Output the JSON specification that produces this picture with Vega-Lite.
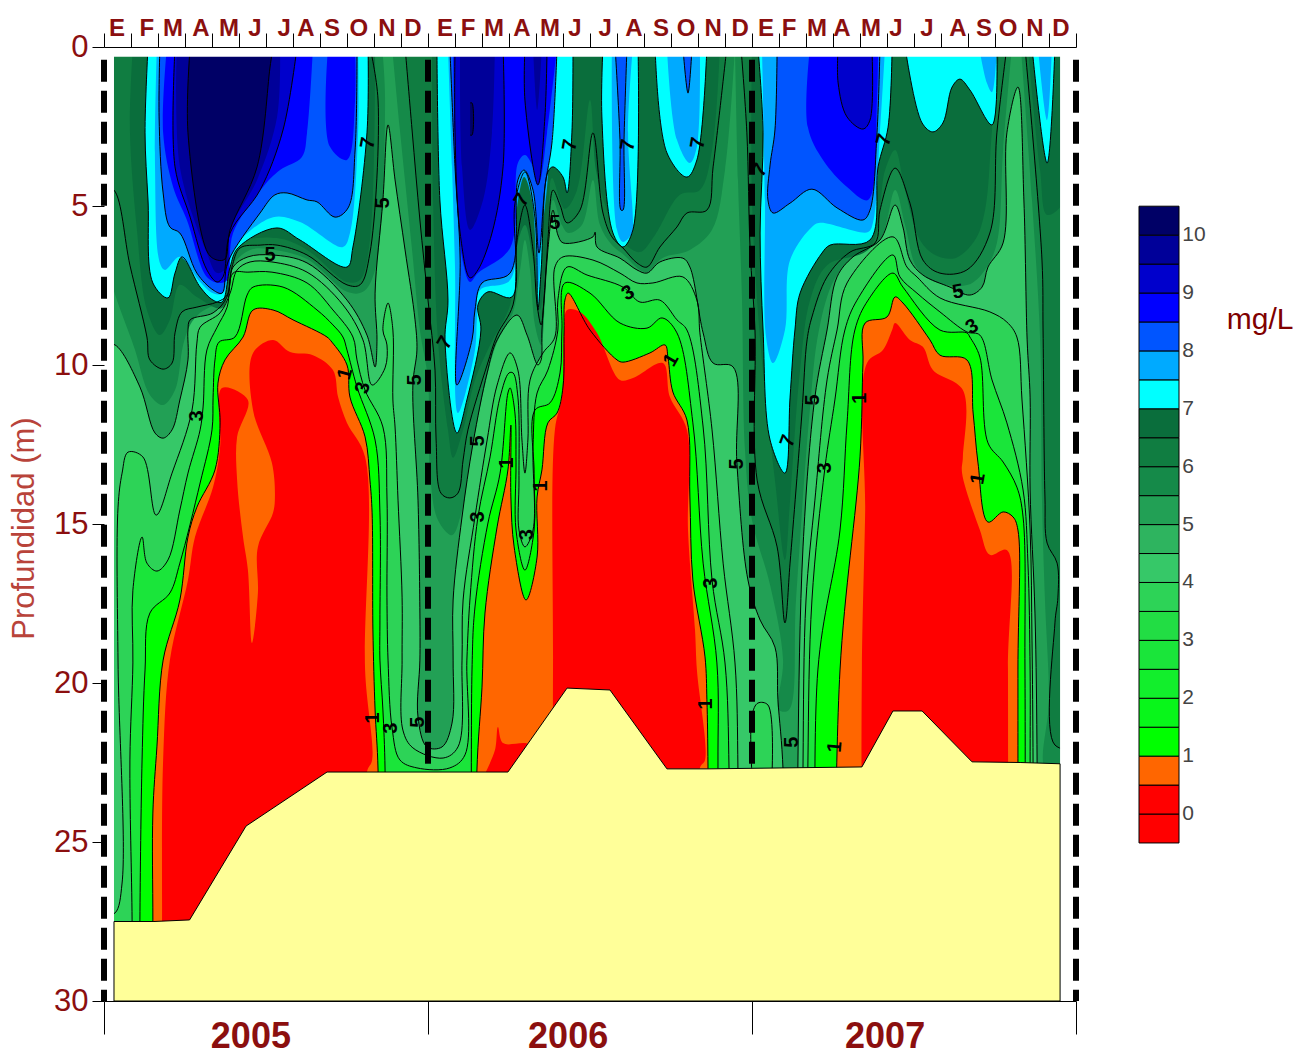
{"$schema":"https://vega.github.io/schema/vega-lite/v6.json","padding":{"left":8,"top":16,"right":0,"bottom":0},"background":"white","config":{"font":"Liberation Sans","view":{"stroke":null}},"spacing":63,"bounds":"flush",
"datasets":{"poly":[
{"b":"5","p":"z","t":0,"d":0},{"b":"5","p":"z","t":36,"d":0},{"b":"5","p":"z","t":36,"d":30},{"b":"5","p":"z","t":0,"d":30},
{"b":"4","p":"a","t":0,"d":9.37},{"b":"4","p":"a","t":0.41,"d":9.37},{"b":"4","p":"a","t":1.33,"d":10.69},{"b":"4","p":"a","t":1.89,"d":12.14},{"b":"4","p":"a","t":2.19,"d":12.3},{"b":"4","p":"a","t":2.52,"d":12.04},{"b":"4","p":"a","t":2.81,"d":11.1},{"b":"4","p":"a","t":3.11,"d":9.84},{"b":"4","p":"a","t":3.11,"d":8.9},{"b":"4","p":"a","t":3.19,"d":8.58},{"b":"4","p":"a","t":4.04,"d":8.36},{"b":"4","p":"a","t":4.56,"d":7.86},{"b":"4","p":"a","t":4.78,"d":6.92},{"b":"4","p":"a","t":5.33,"d":6.6},{"b":"4","p":"a","t":6.22,"d":6.54},{"b":"4","p":"a","t":7.52,"d":6.79},{"b":"4","p":"a","t":9,"d":7.96},{"b":"4","p":"a","t":9.74,"d":9.06},{"b":"4","p":"a","t":10.04,"d":10.06},{"b":"4","p":"a","t":10.11,"d":9.21},{"b":"4","p":"a","t":10.04,"d":7.74},{"b":"4","p":"a","t":10.33,"d":4.81},{"b":"4","p":"a","t":10.52,"d":2.45},{"b":"4","p":"a","t":10.78,"d":4.18},{"b":"4","p":"a","t":11.15,"d":6.38},{"b":"4","p":"a","t":11.52,"d":8.58},{"b":"4","p":"a","t":11.59,"d":9.53},{"b":"4","p":"a","t":11.44,"d":10.63},{"b":"4","p":"a","t":11.63,"d":14.25},{"b":"4","p":"a","t":11.7,"d":17.8},{"b":"4","p":"a","t":11.7,"d":19.28},{"b":"4","p":"a","t":11.63,"d":21.07},{"b":"4","p":"a","t":11.96,"d":22.01},{"b":"4","p":"a","t":12.52,"d":22.01},{"b":"4","p":"a","t":12.89,"d":21.26},{"b":"4","p":"a","t":12.93,"d":19.28},{"b":"4","p":"a","t":12.93,"d":17.39},{"b":"4","p":"a","t":13.26,"d":14.78},{"b":"4","p":"a","t":13.67,"d":12.45},{"b":"4","p":"a","t":14.19,"d":10.25},{"b":"4","p":"a","t":14.56,"d":9.21},{"b":"4","p":"a","t":15.3,"d":8.43},{"b":"4","p":"a","t":15.67,"d":9.06},{"b":"4","p":"a","t":16.07,"d":10},{"b":"4","p":"a","t":16.19,"d":9.84},{"b":"4","p":"a","t":16.22,"d":8.9},{"b":"4","p":"a","t":16.33,"d":7.64},{"b":"4","p":"a","t":16.44,"d":6.38},{"b":"4","p":"a","t":16.63,"d":5.13},{"b":"4","p":"a","t":16.81,"d":5.91},{"b":"4","p":"a","t":17,"d":6.16},{"b":"4","p":"a","t":18.11,"d":5.97},{"b":"4","p":"a","t":18.19,"d":5.82},{"b":"4","p":"a","t":18.26,"d":6.29},{"b":"4","p":"a","t":19.11,"d":6.64},{"b":"4","p":"a","t":19.74,"d":7.01},{"b":"4","p":"a","t":20.11,"d":7.11},{"b":"4","p":"a","t":20.59,"d":6.76},{"b":"4","p":"a","t":21.44,"d":6.64},{"b":"4","p":"a","t":21.7,"d":6.92},{"b":"4","p":"a","t":22.19,"d":8.99},{"b":"4","p":"a","t":22.56,"d":9.94},{"b":"4","p":"a","t":23.3,"d":10.06},{"b":"4","p":"a","t":23.44,"d":13.08},{"b":"4","p":"a","t":23.85,"d":16.76},{"b":"4","p":"a","t":24.3,"d":18.02},{"b":"4","p":"a","t":24.85,"d":18.87},{"b":"4","p":"a","t":24.96,"d":20.53},{"b":"4","p":"a","t":25.15,"d":22.74},{"b":"4","p":"a","t":25.15,"d":29.97},{"b":"4","p":"a","t":0,"d":29.97},
{"b":"4","p":"b","t":25.7,"d":29.97},{"b":"4","p":"b","t":25.7,"d":22.58},{"b":"4","p":"b","t":25.89,"d":15.72},{"b":"4","p":"b","t":26.33,"d":11.01},{"b":"4","p":"b","t":26.78,"d":8.9},{"b":"4","p":"b","t":27.15,"d":7.23},{"b":"4","p":"b","t":27.74,"d":6.6},{"b":"4","p":"b","t":28.74,"d":6.07},{"b":"4","p":"b","t":29.3,"d":4.97},{"b":"4","p":"b","t":29.59,"d":5.66},{"b":"4","p":"b","t":29.85,"d":6.7},{"b":"4","p":"b","t":30.33,"d":7.17},{"b":"4","p":"b","t":31.33,"d":7.55},{"b":"4","p":"b","t":32.07,"d":7.8},{"b":"4","p":"b","t":32.52,"d":7.55},{"b":"4","p":"b","t":32.74,"d":6.92},{"b":"4","p":"b","t":33.3,"d":6.16},{"b":"4","p":"b","t":33.44,"d":2.7},{"b":"4","p":"b","t":33.85,"d":1.26},{"b":"4","p":"b","t":34.07,"d":4.81},{"b":"4","p":"b","t":34.19,"d":9.21},{"b":"4","p":"b","t":34.3,"d":11.01},{"b":"4","p":"b","t":34.3,"d":13.93},{"b":"4","p":"b","t":34.48,"d":17.8},{"b":"4","p":"b","t":34.56,"d":22.58},{"b":"4","p":"b","t":34.56,"d":29.97},
{"b":"3.5","p":"a","t":0,"d":27.3},{"b":"3.5","p":"a","t":0.41,"d":27.23},{"b":"3.5","p":"a","t":0.67,"d":26.29},{"b":"3.5","p":"a","t":0.52,"d":19.37},{"b":"3.5","p":"a","t":0.52,"d":14.47},{"b":"3.5","p":"a","t":0.67,"d":13.4},{"b":"3.5","p":"a","t":0.89,"d":12.74},{"b":"3.5","p":"a","t":1.44,"d":12.89},{"b":"3.5","p":"a","t":1.93,"d":14.72},{"b":"3.5","p":"a","t":2.52,"d":13.4},{"b":"3.5","p":"a","t":3.26,"d":11.42},{"b":"3.5","p":"a","t":3.44,"d":9.31},{"b":"3.5","p":"a","t":3.56,"d":8.81},{"b":"3.5","p":"a","t":4.3,"d":8.36},{"b":"3.5","p":"a","t":4.67,"d":7.74},{"b":"3.5","p":"a","t":4.93,"d":7.01},{"b":"3.5","p":"a","t":5.41,"d":6.76},{"b":"3.5","p":"a","t":6.22,"d":6.76},{"b":"3.5","p":"a","t":7.52,"d":7.08},{"b":"3.5","p":"a","t":8.85,"d":8.11},{"b":"3.5","p":"a","t":9.59,"d":9.21},{"b":"3.5","p":"a","t":9.93,"d":10.63},{"b":"3.5","p":"a","t":10.41,"d":10.09},{"b":"3.5","p":"a","t":10.48,"d":9.37},{"b":"3.5","p":"a","t":10.33,"d":8.9},{"b":"3.5","p":"a","t":10.52,"d":8.05},{"b":"3.5","p":"a","t":10.7,"d":8.9},{"b":"3.5","p":"a","t":10.7,"d":11.1},{"b":"3.5","p":"a","t":10.78,"d":11.95},{"b":"3.5","p":"a","t":10.89,"d":14.25},{"b":"3.5","p":"a","t":11.04,"d":17.3},{"b":"3.5","p":"a","t":11.04,"d":19.28},{"b":"3.5","p":"a","t":11.07,"d":21.48},{"b":"3.5","p":"a","t":11.44,"d":22.04},{"b":"3.5","p":"a","t":12.56,"d":22.36},{"b":"3.5","p":"a","t":13.11,"d":22.01},{"b":"3.5","p":"a","t":13.26,"d":19.28},{"b":"3.5","p":"a","t":13.3,"d":17.39},{"b":"3.5","p":"a","t":13.74,"d":14.78},{"b":"3.5","p":"a","t":14.19,"d":12.36},{"b":"3.5","p":"a","t":14.56,"d":10.63},{"b":"3.5","p":"a","t":15.04,"d":9.62},{"b":"3.5","p":"a","t":15.33,"d":10.16},{"b":"3.5","p":"a","t":15.48,"d":12.36},{"b":"3.5","p":"a","t":15.59,"d":13.4},{"b":"3.5","p":"a","t":15.7,"d":12.36},{"b":"3.5","p":"a","t":15.78,"d":10.47},{"b":"3.5","p":"a","t":16.26,"d":9.62},{"b":"3.5","p":"a","t":16.7,"d":9.12},{"b":"3.5","p":"a","t":16.7,"d":6.92},{"b":"3.5","p":"a","t":17,"d":6.6},{"b":"3.5","p":"a","t":18.11,"d":6.7},{"b":"3.5","p":"a","t":19.11,"d":7.11},{"b":"3.5","p":"a","t":19.74,"d":7.42},{"b":"3.5","p":"a","t":20.33,"d":7.42},{"b":"3.5","p":"a","t":21.44,"d":7.23},{"b":"3.5","p":"a","t":21.96,"d":7.96},{"b":"3.5","p":"a","t":22.07,"d":8.99},{"b":"3.5","p":"a","t":22.52,"d":12.04},{"b":"3.5","p":"a","t":22.93,"d":16.23},{"b":"3.5","p":"a","t":23.37,"d":19.37},{"b":"3.5","p":"a","t":23.48,"d":22.74},{"b":"3.5","p":"a","t":23.48,"d":29.97},{"b":"3.5","p":"a","t":0,"d":29.97},
{"b":"3.5","p":"b","t":25.89,"d":29.97},{"b":"3.5","p":"b","t":25.89,"d":22.58},{"b":"3.5","p":"b","t":26,"d":17.39},{"b":"3.5","p":"b","t":26.33,"d":14.25},{"b":"3.5","p":"b","t":26.78,"d":10.47},{"b":"3.5","p":"b","t":27.15,"d":8.9},{"b":"3.5","p":"b","t":27.52,"d":7.42},{"b":"3.5","p":"b","t":29.22,"d":5.97},{"b":"3.5","p":"b","t":29.74,"d":6.92},{"b":"3.5","p":"b","t":30.11,"d":7.23},{"b":"3.5","p":"b","t":30.96,"d":7.89},{"b":"3.5","p":"b","t":32.81,"d":8.33},{"b":"3.5","p":"b","t":33.44,"d":8.65},{"b":"3.5","p":"b","t":33.81,"d":9.12},{"b":"3.5","p":"b","t":34,"d":11.1},{"b":"3.5","p":"b","t":34.3,"d":15.19},{"b":"3.5","p":"b","t":34.37,"d":18.65},{"b":"3.5","p":"b","t":34.41,"d":22.58},{"b":"3.5","p":"b","t":34.41,"d":29.97},
{"b":"3.5","p":"c","t":24,"d":22.89},{"b":"3.5","p":"c","t":24,"d":21.01},{"b":"3.5","p":"c","t":24.22,"d":20.63},{"b":"3.5","p":"c","t":24.59,"d":20.69},{"b":"3.5","p":"c","t":24.74,"d":22.89},
{"b":"2.5","p":"a","t":1.04,"d":29.97},{"b":"2.5","p":"a","t":1.04,"d":27.45},{"b":"2.5","p":"a","t":0.96,"d":22.42},{"b":"2.5","p":"a","t":1.07,"d":19.37},{"b":"2.5","p":"a","t":1.07,"d":17.08},{"b":"2.5","p":"a","t":1.41,"d":15.41},{"b":"2.5","p":"a","t":1.59,"d":16.23},{"b":"2.5","p":"a","t":1.96,"d":16.48},{"b":"2.5","p":"a","t":2.37,"d":16.13},{"b":"2.5","p":"a","t":2.81,"d":14.56},{"b":"2.5","p":"a","t":3.11,"d":13.4},{"b":"2.5","p":"a","t":3.56,"d":12.04},{"b":"2.5","p":"a","t":3.67,"d":11.32},{"b":"2.5","p":"a","t":3.81,"d":9.53},{"b":"2.5","p":"a","t":4.19,"d":8.81},{"b":"2.5","p":"a","t":4.56,"d":8.18},{"b":"2.5","p":"a","t":4.78,"d":7.11},{"b":"2.5","p":"a","t":5.33,"d":7.08},{"b":"2.5","p":"a","t":6.22,"d":7.08},{"b":"2.5","p":"a","t":7.52,"d":7.42},{"b":"2.5","p":"a","t":8.48,"d":8.27},{"b":"2.5","p":"a","t":9.22,"d":9.12},{"b":"2.5","p":"a","t":9.37,"d":9.84},{"b":"2.5","p":"a","t":9.67,"d":10.79},{"b":"2.5","p":"a","t":10.33,"d":11.95},{"b":"2.5","p":"a","t":10.48,"d":14.15},{"b":"2.5","p":"a","t":10.48,"d":17.3},{"b":"2.5","p":"a","t":10.52,"d":19.28},{"b":"2.5","p":"a","t":10.67,"d":21.42},{"b":"2.5","p":"a","t":10.96,"d":22.42},{"b":"2.5","p":"a","t":11.59,"d":22.67},{"b":"2.5","p":"a","t":12.81,"d":22.67},{"b":"2.5","p":"a","t":13.37,"d":22.26},{"b":"2.5","p":"a","t":13.44,"d":19.28},{"b":"2.5","p":"a","t":13.56,"d":17.3},{"b":"2.5","p":"a","t":13.85,"d":14.78},{"b":"2.5","p":"a","t":14.3,"d":12.89},{"b":"2.5","p":"a","t":14.67,"d":11.01},{"b":"2.5","p":"a","t":15,"d":10.25},{"b":"2.5","p":"a","t":15.15,"d":10.25},{"b":"2.5","p":"a","t":15.33,"d":11.01},{"b":"2.5","p":"a","t":15.37,"d":13.62},{"b":"2.5","p":"a","t":15.37,"d":15.19},{"b":"2.5","p":"a","t":15.59,"d":15.72},{"b":"2.5","p":"a","t":15.89,"d":15.19},{"b":"2.5","p":"a","t":15.89,"d":12.58},{"b":"2.5","p":"a","t":16.04,"d":10.88},{"b":"2.5","p":"a","t":16.44,"d":10.16},{"b":"2.5","p":"a","t":16.81,"d":8.9},{"b":"2.5","p":"a","t":16.81,"d":7.96},{"b":"2.5","p":"a","t":17.15,"d":6.92},{"b":"2.5","p":"a","t":17.89,"d":7.17},{"b":"2.5","p":"a","t":19.22,"d":7.55},{"b":"2.5","p":"a","t":19.85,"d":8.02},{"b":"2.5","p":"a","t":20.59,"d":7.96},{"b":"2.5","p":"a","t":21.22,"d":8.58},{"b":"2.5","p":"a","t":21.59,"d":8.9},{"b":"2.5","p":"a","t":22.19,"d":11.95},{"b":"2.5","p":"a","t":22.52,"d":16.76},{"b":"2.5","p":"a","t":23,"d":19.37},{"b":"2.5","p":"a","t":23.15,"d":22.74},{"b":"2.5","p":"a","t":23.15,"d":29.97},
{"b":"2.5","p":"b","t":26.07,"d":29.97},{"b":"2.5","p":"b","t":26.07,"d":22.58},{"b":"2.5","p":"b","t":26.22,"d":17.39},{"b":"2.5","p":"b","t":26.7,"d":13.24},{"b":"2.5","p":"b","t":27.07,"d":11.1},{"b":"2.5","p":"b","t":27.44,"d":8.9},{"b":"2.5","p":"b","t":27.89,"d":7.96},{"b":"2.5","p":"b","t":29.22,"d":6.54},{"b":"2.5","p":"b","t":29.48,"d":7.23},{"b":"2.5","p":"b","t":30.11,"d":7.74},{"b":"2.5","p":"b","t":30.96,"d":8.33},{"b":"2.5","p":"b","t":31.96,"d":8.96},{"b":"2.5","p":"b","t":32.44,"d":9.06},{"b":"2.5","p":"b","t":32.89,"d":10.47},{"b":"2.5","p":"b","t":33.44,"d":11.82},{"b":"2.5","p":"b","t":34.04,"d":13.93},{"b":"2.5","p":"b","t":34.22,"d":16.23},{"b":"2.5","p":"b","t":34.3,"d":19.59},{"b":"2.5","p":"b","t":34.3,"d":22.58},{"b":"2.5","p":"b","t":34.3,"d":29.97},
{"b":"1","p":"a","t":1.33,"d":29.97},{"b":"1","p":"a","t":1.33,"d":27.45},{"b":"1","p":"a","t":1.41,"d":22.42},{"b":"1","p":"a","t":1.52,"d":19.59},{"b":"1","p":"a","t":1.7,"d":17.8},{"b":"1","p":"a","t":2.44,"d":17.17},{"b":"1","p":"a","t":2.81,"d":16.23},{"b":"1","p":"a","t":3.56,"d":13.71},{"b":"1","p":"a","t":4,"d":12.04},{"b":"1","p":"a","t":4.04,"d":11.01},{"b":"1","p":"a","t":4.11,"d":9.84},{"b":"1","p":"a","t":4.26,"d":9.28},{"b":"1","p":"a","t":4.85,"d":9.12},{"b":"1","p":"a","t":5.3,"d":7.8},{"b":"1","p":"a","t":5.52,"d":7.55},{"b":"1","p":"a","t":6.63,"d":7.55},{"b":"1","p":"a","t":7.89,"d":8.27},{"b":"1","p":"a","t":8.48,"d":8.74},{"b":"1","p":"a","t":8.85,"d":9.12},{"b":"1","p":"a","t":9,"d":9.53},{"b":"1","p":"a","t":9.37,"d":10.69},{"b":"1","p":"a","t":10.04,"d":12.36},{"b":"1","p":"a","t":10.22,"d":14.65},{"b":"1","p":"a","t":10.22,"d":18.02},{"b":"1","p":"a","t":10.22,"d":19.28},{"b":"1","p":"a","t":10.33,"d":20.85},{"b":"1","p":"a","t":10.41,"d":22.74},{"b":"1","p":"a","t":10.41,"d":29.97},
{"b":"1","p":"b","t":13.63,"d":29.97},{"b":"1","p":"b","t":13.63,"d":19.59},{"b":"1","p":"b","t":13.74,"d":17.61},{"b":"1","p":"b","t":14.22,"d":14.97},{"b":"1","p":"b","t":14.67,"d":13.4},{"b":"1","p":"b","t":14.96,"d":10.88},{"b":"1","p":"b","t":15.04,"d":10.72},{"b":"1","p":"b","t":15.22,"d":11.51},{"b":"1","p":"b","t":15.26,"d":13.08},{"b":"1","p":"b","t":15.26,"d":15.19},{"b":"1","p":"b","t":15.59,"d":16.45},{"b":"1","p":"b","t":15.93,"d":15.19},{"b":"1","p":"b","t":15.93,"d":13.4},{"b":"1","p":"b","t":15.96,"d":11.42},{"b":"1","p":"b","t":16.52,"d":11.19},{"b":"1","p":"b","t":16.89,"d":10.25},{"b":"1","p":"b","t":16.96,"d":8.9},{"b":"1","p":"b","t":17.07,"d":7.42},{"b":"1","p":"b","t":18,"d":7.74},{"b":"1","p":"b","t":19.11,"d":8.68},{"b":"1","p":"b","t":20.11,"d":8.84},{"b":"1","p":"b","t":20.67,"d":8.52},{"b":"1","p":"b","t":21.22,"d":8.99},{"b":"1","p":"b","t":21.81,"d":11.82},{"b":"1","p":"b","t":22.19,"d":16.23},{"b":"1","p":"b","t":22.7,"d":19.37},{"b":"1","p":"b","t":22.74,"d":22.64},{"b":"1","p":"b","t":22.74,"d":29.97},
{"b":"1","p":"c","t":26.44,"d":29.97},{"b":"1","p":"c","t":26.44,"d":19.59},{"b":"1","p":"c","t":27.26,"d":15.19},{"b":"1","p":"c","t":27.52,"d":11.82},{"b":"1","p":"c","t":27.81,"d":8.9},{"b":"1","p":"c","t":28.3,"d":7.96},{"b":"1","p":"c","t":29.22,"d":7.11},{"b":"1","p":"c","t":29.59,"d":7.55},{"b":"1","p":"c","t":30.96,"d":8.9},{"b":"1","p":"c","t":31.96,"d":8.99},{"b":"1","p":"c","t":32.07,"d":9.12},{"b":"1","p":"c","t":32.44,"d":9.75},{"b":"1","p":"c","t":32.74,"d":12.45},{"b":"1","p":"c","t":33.3,"d":13.05},{"b":"1","p":"c","t":33.81,"d":13.84},{"b":"1","p":"c","t":34.04,"d":14.78},{"b":"1","p":"c","t":34.11,"d":19.59},{"b":"1","p":"c","t":34.11,"d":29.97},
{"b":"0.5","p":"a","t":1.81,"d":29.97},{"b":"0.5","p":"a","t":1.81,"d":27.45},{"b":"0.5","p":"a","t":1.81,"d":24.09},{"b":"0.5","p":"a","t":1.96,"d":22.01},{"b":"0.5","p":"a","t":2.19,"d":19.28},{"b":"0.5","p":"a","t":2.81,"d":17.39},{"b":"0.5","p":"a","t":3.11,"d":15.41},{"b":"0.5","p":"a","t":3.44,"d":14.47},{"b":"0.5","p":"a","t":4.11,"d":13.3},{"b":"0.5","p":"a","t":4.3,"d":11.82},{"b":"0.5","p":"a","t":4.22,"d":10.57},{"b":"0.5","p":"a","t":4.48,"d":9.84},{"b":"0.5","p":"a","t":5.15,"d":9.12},{"b":"0.5","p":"a","t":5.52,"d":8.27},{"b":"0.5","p":"a","t":6.26,"d":8.27},{"b":"0.5","p":"a","t":7,"d":8.58},{"b":"0.5","p":"a","t":8.26,"d":9.12},{"b":"0.5","p":"a","t":8.44,"d":9.28},{"b":"0.5","p":"a","t":9,"d":10},{"b":"0.5","p":"a","t":9.11,"d":11.01},{"b":"0.5","p":"a","t":9.67,"d":12.26},{"b":"0.5","p":"a","t":9.85,"d":13.62},{"b":"0.5","p":"a","t":9.93,"d":14.65},{"b":"0.5","p":"a","t":9.96,"d":18.33},{"b":"0.5","p":"a","t":10.04,"d":20.85},{"b":"0.5","p":"a","t":10.15,"d":22.74},{"b":"0.5","p":"a","t":10.15,"d":29.97},
{"b":"0.5","p":"b","t":13.81,"d":29.97},{"b":"0.5","p":"b","t":13.81,"d":22.8},{"b":"0.5","p":"b","t":14,"d":20.13},{"b":"0.5","p":"b","t":14.11,"d":17.8},{"b":"0.5","p":"b","t":14.56,"d":15.09},{"b":"0.5","p":"b","t":14.96,"d":13.3},{"b":"0.5","p":"b","t":15.07,"d":11.89},{"b":"0.5","p":"b","t":15.07,"d":14.15},{"b":"0.5","p":"b","t":15.19,"d":15.72},{"b":"0.5","p":"b","t":15.63,"d":17.39},{"b":"0.5","p":"b","t":16.04,"d":16.04},{"b":"0.5","p":"b","t":16.04,"d":14.15},{"b":"0.5","p":"b","t":16.22,"d":13.3},{"b":"0.5","p":"b","t":16.44,"d":11.82},{"b":"0.5","p":"b","t":16.78,"d":11.51},{"b":"0.5","p":"b","t":17,"d":10.69},{"b":"0.5","p":"b","t":17.04,"d":8.9},{"b":"0.5","p":"b","t":17.07,"d":7.96},{"b":"0.5","p":"b","t":17.19,"d":7.74},{"b":"0.5","p":"b","t":18,"d":8.9},{"b":"0.5","p":"b","t":19,"d":9.84},{"b":"0.5","p":"b","t":19.22,"d":9.91},{"b":"0.5","p":"b","t":20.22,"d":9.62},{"b":"0.5","p":"b","t":20.78,"d":9.37},{"b":"0.5","p":"b","t":20.89,"d":9.78},{"b":"0.5","p":"b","t":21.07,"d":10.85},{"b":"0.5","p":"b","t":21.59,"d":11.73},{"b":"0.5","p":"b","t":21.7,"d":14.15},{"b":"0.5","p":"b","t":21.81,"d":16.76},{"b":"0.5","p":"b","t":22.26,"d":19.18},{"b":"0.5","p":"b","t":22.33,"d":20.53},{"b":"0.5","p":"b","t":22.37,"d":22.64},{"b":"0.5","p":"b","t":22.37,"d":29.97},
{"b":"0.5","p":"c","t":27.04,"d":29.97},{"b":"0.5","p":"c","t":27.26,"d":19.59},{"b":"0.5","p":"c","t":28,"d":12.89},{"b":"0.5","p":"c","t":28.11,"d":9.94},{"b":"0.5","p":"c","t":28.19,"d":8.68},{"b":"0.5","p":"c","t":29,"d":8.49},{"b":"0.5","p":"c","t":29.3,"d":7.86},{"b":"0.5","p":"c","t":29.59,"d":8.05},{"b":"0.5","p":"c","t":30.59,"d":9.21},{"b":"0.5","p":"c","t":30.96,"d":9.69},{"b":"0.5","p":"c","t":31.96,"d":9.84},{"b":"0.5","p":"c","t":32.19,"d":11.51},{"b":"0.5","p":"c","t":32.37,"d":13.08},{"b":"0.5","p":"c","t":32.74,"d":14.94},{"b":"0.5","p":"c","t":33.3,"d":14.62},{"b":"0.5","p":"c","t":33.67,"d":14.78},{"b":"0.5","p":"c","t":33.85,"d":15.19},{"b":"0.5","p":"c","t":33.85,"d":19.59},{"b":"0.5","p":"c","t":33.85,"d":29.97},
{"b":"0","p":"a","t":2.15,"d":29.97},{"b":"0","p":"a","t":2.15,"d":27.45},{"b":"0","p":"a","t":2.19,"d":22.42},{"b":"0","p":"a","t":2.44,"d":19.28},{"b":"0","p":"a","t":3.11,"d":16.76},{"b":"0","p":"a","t":3.37,"d":15.41},{"b":"0","p":"a","t":4.04,"d":13.84},{"b":"0","p":"a","t":4.3,"d":12.58},{"b":"0","p":"a","t":4.37,"d":10.72},{"b":"0","p":"a","t":5.33,"d":11.1},{"b":"0","p":"a","t":4.93,"d":12.26},{"b":"0","p":"a","t":4.93,"d":13.62},{"b":"0","p":"a","t":5.15,"d":15.41},{"b":"0","p":"a","t":5.33,"d":16.45},{"b":"0","p":"a","t":5.48,"d":18.74},{"b":"0","p":"a","t":5.7,"d":17.17},{"b":"0","p":"a","t":5.7,"d":15.72},{"b":"0","p":"a","t":6.26,"d":14.65},{"b":"0","p":"a","t":6.33,"d":14.15},{"b":"0","p":"a","t":6.22,"d":13.08},{"b":"0","p":"a","t":5.52,"d":11.42},{"b":"0","p":"a","t":5.52,"d":9.62},{"b":"0","p":"a","t":6.26,"d":9.21},{"b":"0","p":"a","t":6.89,"d":9.59},{"b":"0","p":"a","t":7.74,"d":9.69},{"b":"0","p":"a","t":8.48,"d":10.16},{"b":"0","p":"a","t":8.67,"d":11.01},{"b":"0","p":"a","t":9,"d":11.82},{"b":"0","p":"a","t":9.67,"d":12.89},{"b":"0","p":"a","t":9.67,"d":19.59},{"b":"0","p":"a","t":9.93,"d":22.42},{"b":"0","p":"a","t":9.74,"d":22.8},{"b":"0","p":"a","t":9.74,"d":29.97},
{"b":"0","p":"b","t":16.63,"d":29.97},{"b":"0","p":"b","t":16.63,"d":19.59},{"b":"0","p":"b","t":16.7,"d":12.04},{"b":"0","p":"b","t":16.96,"d":11.01},{"b":"0","p":"b","t":17.04,"d":8.9},{"b":"0","p":"b","t":17.15,"d":8.27},{"b":"0","p":"b","t":17.63,"d":8.33},{"b":"0","p":"b","t":18.26,"d":8.99},{"b":"0","p":"b","t":19.11,"d":10.47},{"b":"0","p":"b","t":19.59,"d":10.41},{"b":"0","p":"b","t":20.7,"d":9.94},{"b":"0","p":"b","t":20.96,"d":11.01},{"b":"0","p":"b","t":21.59,"d":12.04},{"b":"0","p":"b","t":21.63,"d":15.19},{"b":"0","p":"b","t":21.89,"d":18.33},{"b":"0","p":"b","t":21.96,"d":19.59},{"b":"0","p":"b","t":22.26,"d":22.42},{"b":"0","p":"b","t":22.07,"d":22.67},{"b":"0","p":"b","t":22.07,"d":29.97},
{"b":"0","p":"c","t":14,"d":23.05},{"b":"0","p":"c","t":14.48,"d":22.11},{"b":"0","p":"c","t":14.59,"d":21.38},{"b":"0","p":"c","t":14.78,"d":21.89},{"b":"0","p":"c","t":15.78,"d":21.95},{"b":"0","p":"c","t":15.96,"d":23.05},
{"b":"0","p":"d","t":28.07,"d":29.97},{"b":"0","p":"d","t":28.07,"d":19.59},{"b":"0","p":"d","t":28.19,"d":14.65},{"b":"0","p":"d","t":28.26,"d":9.94},{"b":"0","p":"d","t":28.85,"d":9.53},{"b":"0","p":"d","t":29.19,"d":8.9},{"b":"0","p":"d","t":29.3,"d":8.68},{"b":"0","p":"d","t":29.85,"d":9.21},{"b":"0","p":"d","t":30.33,"d":9.43},{"b":"0","p":"d","t":30.7,"d":10.16},{"b":"0","p":"d","t":31.81,"d":10.79},{"b":"0","p":"d","t":31.81,"d":12.89},{"b":"0","p":"d","t":31.78,"d":13.4},{"b":"0","p":"d","t":32.44,"d":15.19},{"b":"0","p":"d","t":32.81,"d":15.97},{"b":"0","p":"d","t":33.44,"d":15.82},{"b":"0","p":"d","t":33.48,"d":19.59},{"b":"0","p":"d","t":33.48,"d":29.97},
{"b":"5.5","p":"a","t":0,"d":0},{"b":"5.5","p":"a","t":0,"d":6.38},{"b":"5.5","p":"a","t":1.15,"d":9.53},{"b":"5.5","p":"a","t":1.7,"d":10.94},{"b":"5.5","p":"a","t":2.19,"d":11.26},{"b":"5.5","p":"a","t":2.63,"d":10.79},{"b":"5.5","p":"a","t":2.93,"d":9.37},{"b":"5.5","p":"a","t":3.19,"d":8.74},{"b":"5.5","p":"a","t":3.56,"d":8.36},{"b":"5.5","p":"a","t":4.48,"d":7.86},{"b":"5.5","p":"a","t":4.78,"d":6.86},{"b":"5.5","p":"a","t":5.41,"d":6.38},{"b":"5.5","p":"a","t":6.33,"d":6.38},{"b":"5.5","p":"a","t":7.52,"d":6.67},{"b":"5.5","p":"a","t":9,"d":7.7},{"b":"5.5","p":"a","t":9.59,"d":7.7},{"b":"5.5","p":"a","t":10.04,"d":7.01},{"b":"5.5","p":"a","t":10.41,"d":1.67},{"b":"5.5","p":"a","t":10.3,"d":0},
{"b":"5.5","p":"b","t":10.67,"d":0},{"b":"5.5","p":"b","t":10.96,"d":2.61},{"b":"5.5","p":"b","t":11.41,"d":6.38},{"b":"5.5","p":"b","t":11.7,"d":8.9},{"b":"5.5","p":"b","t":12,"d":10.47},{"b":"5.5","p":"b","t":12.07,"d":13.3},{"b":"5.5","p":"b","t":12.37,"d":14.88},{"b":"5.5","p":"b","t":12.89,"d":15.35},{"b":"5.5","p":"b","t":13.26,"d":14.56},{"b":"5.5","p":"b","t":13.56,"d":13},{"b":"5.5","p":"b","t":14.11,"d":10.63},{"b":"5.5","p":"b","t":14.56,"d":9.28},{"b":"5.5","p":"b","t":15.15,"d":8.33},{"b":"5.5","p":"b","t":15.41,"d":7.01},{"b":"5.5","p":"b","t":15.59,"d":6.07},{"b":"5.5","p":"b","t":15.78,"d":7.01},{"b":"5.5","p":"b","t":15.96,"d":8.74},{"b":"5.5","p":"b","t":16.19,"d":9.37},{"b":"5.5","p":"b","t":16.33,"d":7.96},{"b":"5.5","p":"b","t":16.44,"d":6.07},{"b":"5.5","p":"b","t":16.63,"d":4.81},{"b":"5.5","p":"b","t":16.96,"d":5.6},{"b":"5.5","p":"b","t":17.19,"d":5.85},{"b":"5.5","p":"b","t":17.7,"d":5.6},{"b":"5.5","p":"b","t":18.11,"d":4.18},{"b":"5.5","p":"b","t":18.37,"d":5.6},{"b":"5.5","p":"b","t":18.81,"d":6.23},{"b":"5.5","p":"b","t":19.3,"d":6.57},{"b":"5.5","p":"b","t":19.85,"d":7.01},{"b":"5.5","p":"b","t":20.15,"d":7.08},{"b":"5.5","p":"b","t":20.67,"d":6.64},{"b":"5.5","p":"b","t":21.7,"d":6.38},{"b":"5.5","p":"b","t":22.52,"d":5.75},{"b":"5.5","p":"b","t":23,"d":3.87},{"b":"5.5","p":"b","t":23.37,"d":0},
{"b":"5.5","p":"c","t":23.37,"d":0},{"b":"5.5","p":"c","t":23.48,"d":4.18},{"b":"5.5","p":"c","t":23.63,"d":7.96},{"b":"5.5","p":"c","t":23.74,"d":12.67},{"b":"5.5","p":"c","t":24,"d":14.88},{"b":"5.5","p":"c","t":24.67,"d":16.92},{"b":"5.5","p":"c","t":25.15,"d":19.28},{"b":"5.5","p":"c","t":25,"d":20.85},{"b":"5.5","p":"c","t":25.37,"d":20.85},{"b":"5.5","p":"c","t":25.63,"d":17.39},{"b":"5.5","p":"c","t":26.11,"d":11.73},{"b":"5.5","p":"c","t":26.48,"d":8.9},{"b":"5.5","p":"c","t":27.04,"d":7.33},{"b":"5.5","p":"c","t":27.78,"d":6.57},{"b":"5.5","p":"c","t":28.74,"d":6.07},{"b":"5.5","p":"c","t":29.3,"d":4.5},{"b":"5.5","p":"c","t":29.67,"d":5.6},{"b":"5.5","p":"c","t":30.11,"d":6.95},{"b":"5.5","p":"c","t":30.78,"d":7.39},{"b":"5.5","p":"c","t":32,"d":7.48},{"b":"5.5","p":"c","t":32.63,"d":7.01},{"b":"5.5","p":"c","t":33.07,"d":6.16},{"b":"5.5","p":"c","t":33.3,"d":3.24},{"b":"5.5","p":"c","t":33.63,"d":0},
{"b":"5.5","p":"d","t":33.96,"d":0},{"b":"5.5","p":"d","t":34.37,"d":4.81},{"b":"5.5","p":"d","t":34.67,"d":9.21},{"b":"5.5","p":"d","t":34.74,"d":14.25},{"b":"5.5","p":"d","t":34.85,"d":17.39},{"b":"5.5","p":"d","t":35,"d":20.53},{"b":"5.5","p":"d","t":34.89,"d":22.74},{"b":"5.5","p":"d","t":36,"d":22.74},{"b":"5.5","p":"d","t":36,"d":0},
{"b":"6","p":"a","t":0,"d":0},{"b":"6","p":"a","t":0,"d":4.4},{"b":"6","p":"a","t":0.37,"d":4.5},{"b":"6","p":"a","t":0.96,"d":6.86},{"b":"6","p":"a","t":1.59,"d":9.12},{"b":"6","p":"a","t":1.7,"d":9.84},{"b":"6","p":"a","t":2.19,"d":10.13},{"b":"6","p":"a","t":2.52,"d":9.94},{"b":"6","p":"a","t":2.63,"d":8.99},{"b":"6","p":"a","t":2.89,"d":8.33},{"b":"6","p":"a","t":3.44,"d":8.18},{"b":"6","p":"a","t":4.19,"d":8.02},{"b":"6","p":"a","t":4.56,"d":7.8},{"b":"6","p":"a","t":4.74,"d":6.92},{"b":"6","p":"a","t":5.04,"d":6.32},{"b":"6","p":"a","t":5.78,"d":6.23},{"b":"6","p":"a","t":6.41,"d":6.23},{"b":"6","p":"a","t":7.52,"d":6.54},{"b":"6","p":"a","t":9,"d":7.48},{"b":"6","p":"a","t":9.48,"d":7.48},{"b":"6","p":"a","t":9.85,"d":6.48},{"b":"6","p":"a","t":10.15,"d":1.67},{"b":"6","p":"a","t":9.85,"d":0},
{"b":"6","p":"b","t":11.15,"d":0},{"b":"6","p":"b","t":11.41,"d":2.61},{"b":"6","p":"b","t":11.7,"d":5.44},{"b":"6","p":"b","t":12,"d":7.96},{"b":"6","p":"b","t":12.26,"d":10.16},{"b":"6","p":"b","t":12.3,"d":12.36},{"b":"6","p":"b","t":12.48,"d":14.03},{"b":"6","p":"b","t":12.81,"d":14.18},{"b":"6","p":"b","t":13.11,"d":14.03},{"b":"6","p":"b","t":13.3,"d":12.99},{"b":"6","p":"b","t":13.48,"d":12.04},{"b":"6","p":"b","t":14.19,"d":10},{"b":"6","p":"b","t":14.56,"d":9.06},{"b":"6","p":"b","t":15.15,"d":8.11},{"b":"6","p":"b","t":15.3,"d":6.07},{"b":"6","p":"b","t":15.59,"d":4.97},{"b":"6","p":"b","t":15.89,"d":6.38},{"b":"6","p":"b","t":16.04,"d":8.11},{"b":"6","p":"b","t":16.19,"d":8.74},{"b":"6","p":"b","t":16.33,"d":7.48},{"b":"6","p":"b","t":16.44,"d":6.07},{"b":"6","p":"b","t":16.63,"d":4.5},{"b":"6","p":"b","t":16.89,"d":4.97},{"b":"6","p":"b","t":17.15,"d":5.53},{"b":"6","p":"b","t":17.63,"d":5.13},{"b":"6","p":"b","t":18.11,"d":2.7},{"b":"6","p":"b","t":18.48,"d":5.22},{"b":"6","p":"b","t":18.81,"d":5.97},{"b":"6","p":"b","t":19.22,"d":6.32},{"b":"6","p":"b","t":19.74,"d":6.79},{"b":"6","p":"b","t":20.11,"d":6.92},{"b":"6","p":"b","t":20.59,"d":6.29},{"b":"6","p":"b","t":21.22,"d":5.66},{"b":"6","p":"b","t":21.59,"d":5.22},{"b":"6","p":"b","t":22.33,"d":5.13},{"b":"6","p":"b","t":22.56,"d":3.77},{"b":"6","p":"b","t":23.07,"d":0},
{"b":"6","p":"c","t":23.59,"d":0},{"b":"6","p":"c","t":23.81,"d":2.7},{"b":"6","p":"c","t":23.93,"d":6.38},{"b":"6","p":"c","t":24.11,"d":8.9},{"b":"6","p":"c","t":24.19,"d":13.62},{"b":"6","p":"c","t":24.93,"d":15.72},{"b":"6","p":"c","t":25.22,"d":18.11},{"b":"6","p":"c","t":25.41,"d":16.23},{"b":"6","p":"c","t":25.85,"d":11.51},{"b":"6","p":"c","t":26.04,"d":9.21},{"b":"6","p":"c","t":26.22,"d":8.49},{"b":"6","p":"c","t":26.78,"d":7.23},{"b":"6","p":"c","t":27.63,"d":6.45},{"b":"6","p":"c","t":28.56,"d":6.16},{"b":"6","p":"c","t":28.74,"d":5.13},{"b":"6","p":"c","t":29.3,"d":3.81},{"b":"6","p":"c","t":29.85,"d":4.91},{"b":"6","p":"c","t":30.33,"d":6.7},{"b":"6","p":"c","t":30.96,"d":7.11},{"b":"6","p":"c","t":31.96,"d":7.01},{"b":"6","p":"c","t":32.81,"d":5.85},{"b":"6","p":"c","t":33.07,"d":2.7},{"b":"6","p":"c","t":33.44,"d":0},
{"b":"6","p":"d","t":34.11,"d":0},{"b":"6","p":"d","t":34.74,"d":6.7},{"b":"6","p":"d","t":34.78,"d":8.9},{"b":"6","p":"d","t":34.85,"d":14.15},{"b":"6","p":"d","t":34.93,"d":15.6},{"b":"6","p":"d","t":35.3,"d":16.23},{"b":"6","p":"d","t":35.33,"d":17.3},{"b":"6","p":"d","t":35.22,"d":18.11},{"b":"6","p":"d","t":35.22,"d":21.95},{"b":"6","p":"d","t":36,"d":21.95},{"b":"6","p":"d","t":36,"d":0},
{"b":"6.5","p":"a","t":1.07,"d":0},{"b":"6.5","p":"a","t":0.96,"d":2.61},{"b":"6.5","p":"a","t":1.22,"d":5.75},{"b":"6.5","p":"a","t":1.59,"d":8.27},{"b":"6.5","p":"a","t":2.07,"d":9.06},{"b":"6.5","p":"a","t":2.44,"d":8.58},{"b":"6.5","p":"a","t":2.81,"d":7.48},{"b":"6.5","p":"a","t":3.44,"d":7.86},{"b":"6.5","p":"a","t":4.37,"d":8.21},{"b":"6.5","p":"a","t":4.74,"d":6.76},{"b":"6.5","p":"a","t":5.04,"d":6.16},{"b":"6.5","p":"a","t":6.41,"d":6.01},{"b":"6.5","p":"a","t":7.52,"d":6.38},{"b":"6.5","p":"a","t":9,"d":7.39},{"b":"6.5","p":"a","t":9.48,"d":7.33},{"b":"6.5","p":"a","t":9.85,"d":6.07},{"b":"6.5","p":"a","t":10.04,"d":0},
{"b":"6.5","p":"b","t":12.15,"d":0},{"b":"6.5","p":"b","t":12.19,"d":4.81},{"b":"6.5","p":"b","t":12.37,"d":9.21},{"b":"6.5","p":"b","t":12.74,"d":12.04},{"b":"6.5","p":"b","t":12.93,"d":12.92},{"b":"6.5","p":"b","t":13.3,"d":12.04},{"b":"6.5","p":"b","t":13.74,"d":10.47},{"b":"6.5","p":"b","t":14.3,"d":9.37},{"b":"6.5","p":"b","t":15.04,"d":8.11},{"b":"6.5","p":"b","t":15.26,"d":6.38},{"b":"6.5","p":"b","t":15.59,"d":5.6},{"b":"6.5","p":"b","t":15.89,"d":6.7},{"b":"6.5","p":"b","t":16.15,"d":8.27},{"b":"6.5","p":"b","t":16.44,"d":5.75},{"b":"6.5","p":"b","t":16.59,"d":4.12},{"b":"6.5","p":"b","t":17.07,"d":5.09},{"b":"6.5","p":"b","t":17.52,"d":4.5},{"b":"6.5","p":"b","t":18,"d":1.67},{"b":"6.5","p":"b","t":18.22,"d":3.87},{"b":"6.5","p":"b","t":18.56,"d":4.97},{"b":"6.5","p":"b","t":19.04,"d":6.07},{"b":"6.5","p":"b","t":19.3,"d":6.23},{"b":"6.5","p":"b","t":19.85,"d":6.45},{"b":"6.5","p":"b","t":20.41,"d":5.91},{"b":"6.5","p":"b","t":21.33,"d":4.65},{"b":"6.5","p":"b","t":22.07,"d":4.5},{"b":"6.5","p":"b","t":22.52,"d":3.24},{"b":"6.5","p":"b","t":22.81,"d":0},
{"b":"6.5","p":"c","t":24,"d":0},{"b":"6.5","p":"c","t":24,"d":4.81},{"b":"6.5","p":"c","t":24.3,"d":9.21},{"b":"6.5","p":"c","t":24.85,"d":13.62},{"b":"6.5","p":"c","t":25.22,"d":16.13},{"b":"6.5","p":"c","t":25.41,"d":14.25},{"b":"6.5","p":"c","t":25.78,"d":10.16},{"b":"6.5","p":"c","t":26.15,"d":7.96},{"b":"6.5","p":"c","t":26.78,"d":6.86},{"b":"6.5","p":"c","t":28.37,"d":6.32},{"b":"6.5","p":"c","t":28.93,"d":3.87},{"b":"6.5","p":"c","t":29.3,"d":3.24},{"b":"6.5","p":"c","t":29.67,"d":4.5},{"b":"6.5","p":"c","t":30.22,"d":6.07},{"b":"6.5","p":"c","t":30.78,"d":6.54},{"b":"6.5","p":"c","t":31.52,"d":6.64},{"b":"6.5","p":"c","t":32.26,"d":6.07},{"b":"6.5","p":"c","t":32.63,"d":5.13},{"b":"6.5","p":"c","t":32.89,"d":2.61},{"b":"6.5","p":"c","t":33.19,"d":0},
{"b":"6.5","p":"d","t":34.22,"d":0},{"b":"6.5","p":"d","t":34.67,"d":3.87},{"b":"6.5","p":"d","t":34.93,"d":5.28},{"b":"6.5","p":"d","t":35.59,"d":4.81},{"b":"6.5","p":"d","t":36,"d":0},
{"b":"7","p":"a","t":1.63,"d":0},{"b":"7","p":"a","t":1.52,"d":2.7},{"b":"7","p":"a","t":1.63,"d":4.81},{"b":"7","p":"a","t":1.81,"d":7.42},{"b":"7","p":"a","t":2.37,"d":7.89},{"b":"7","p":"a","t":2.63,"d":7.11},{"b":"7","p":"a","t":2.89,"d":6.6},{"b":"7","p":"a","t":3.56,"d":7.55},{"b":"7","p":"a","t":4.04,"d":7.96},{"b":"7","p":"a","t":4.37,"d":8.02},{"b":"7","p":"a","t":4.67,"d":6.92},{"b":"7","p":"a","t":4.96,"d":6.32},{"b":"7","p":"a","t":6.41,"d":5.69},{"b":"7","p":"a","t":7.26,"d":6.07},{"b":"7","p":"a","t":9,"d":6.92},{"b":"7","p":"a","t":9.22,"d":6.29},{"b":"7","p":"a","t":9.74,"d":2.7},{"b":"7","p":"a","t":9.78,"d":0},
{"b":"7","p":"b","t":12.33,"d":0},{"b":"7","p":"b","t":12.44,"d":4.81},{"b":"7","p":"b","t":12.74,"d":7.96},{"b":"7","p":"b","t":12.63,"d":9.21},{"b":"7","p":"b","t":13.07,"d":12.14},{"b":"7","p":"b","t":13.44,"d":11.1},{"b":"7","p":"b","t":13.96,"d":8.9},{"b":"7","p":"b","t":13.85,"d":8.11},{"b":"7","p":"b","t":14.22,"d":7.7},{"b":"7","p":"b","t":15.11,"d":7.86},{"b":"7","p":"b","t":15.22,"d":4.91},{"b":"7","p":"b","t":15.59,"d":3.93},{"b":"7","p":"b","t":15.96,"d":5.35},{"b":"7","p":"b","t":16.07,"d":8.27},{"b":"7","p":"b","t":16.19,"d":7.01},{"b":"7","p":"b","t":16.44,"d":3.93},{"b":"7","p":"b","t":16.63,"d":3.77},{"b":"7","p":"b","t":17,"d":4.09},{"b":"7","p":"b","t":17.15,"d":4.59},{"b":"7","p":"b","t":17.33,"d":2.7},{"b":"7","p":"b","t":17.37,"d":0},
{"b":"7","p":"c","t":18.48,"d":0},{"b":"7","p":"c","t":18.44,"d":2.2},{"b":"7","p":"c","t":18.85,"d":5.85},{"b":"7","p":"c","t":19.22,"d":6.29},{"b":"7","p":"c","t":19.59,"d":5.75},{"b":"7","p":"c","t":19.78,"d":0},
{"b":"7","p":"d","t":20.41,"d":0},{"b":"7","p":"d","t":20.85,"d":3.33},{"b":"7","p":"d","t":21.59,"d":4.09},{"b":"7","p":"d","t":21.96,"d":3.55},{"b":"7","p":"d","t":22.33,"d":0},
{"b":"7","p":"e","t":24.22,"d":0},{"b":"7","p":"e","t":24.41,"d":2.7},{"b":"7","p":"e","t":24.3,"d":5.85},{"b":"7","p":"e","t":24.41,"d":8.9},{"b":"7","p":"e","t":24.67,"d":12.36},{"b":"7","p":"e","t":25.22,"d":13.4},{"b":"7","p":"e","t":25.41,"d":11.01},{"b":"7","p":"e","t":25.59,"d":8.9},{"b":"7","p":"e","t":25.78,"d":7.74},{"b":"7","p":"e","t":26.59,"d":6.48},{"b":"7","p":"e","t":26.89,"d":6.23},{"b":"7","p":"e","t":28.37,"d":6.07},{"b":"7","p":"e","t":28.67,"d":3.77},{"b":"7","p":"e","t":29.04,"d":2.52},{"b":"7","p":"e","t":29.19,"d":0},
{"b":"7","p":"f","t":29.67,"d":0},{"b":"7","p":"f","t":30.3,"d":2.39},{"b":"7","p":"f","t":30.7,"d":2.67},{"b":"7","p":"f","t":31.07,"d":2.39},{"b":"7","p":"f","t":31.41,"d":1.26},{"b":"7","p":"f","t":31.7,"d":1.01},{"b":"7","p":"f","t":32.07,"d":1.35},{"b":"7","p":"f","t":32.89,"d":2.45},{"b":"7","p":"f","t":33.07,"d":0},
{"b":"7","p":"g","t":34.37,"d":0},{"b":"7","p":"g","t":34.93,"d":3.65},{"b":"7","p":"g","t":35.22,"d":0},
{"b":"7.5","p":"a","t":1.96,"d":0},{"b":"7.5","p":"a","t":1.89,"d":3.77},{"b":"7.5","p":"a","t":2.07,"d":6.79},{"b":"7.5","p":"a","t":2.26,"d":7.01},{"b":"7.5","p":"a","t":2.81,"d":6.6},{"b":"7.5","p":"a","t":3.56,"d":7.39},{"b":"7.5","p":"a","t":4.04,"d":7.74},{"b":"7.5","p":"a","t":4.41,"d":7.74},{"b":"7.5","p":"a","t":4.67,"d":6.7},{"b":"7.5","p":"a","t":4.96,"d":6.16},{"b":"7.5","p":"a","t":6.26,"d":5.35},{"b":"7.5","p":"a","t":7.26,"d":5.5},{"b":"7.5","p":"a","t":8.85,"d":6.29},{"b":"7.5","p":"a","t":9.11,"d":5.85},{"b":"7.5","p":"a","t":9.41,"d":2.7},{"b":"7.5","p":"a","t":9.41,"d":0},
{"b":"7.5","p":"b","t":12.74,"d":0},{"b":"7.5","p":"b","t":12.89,"d":3.77},{"b":"7.5","p":"b","t":13,"d":6.92},{"b":"7.5","p":"b","t":13.11,"d":11.51},{"b":"7.5","p":"b","t":13.74,"d":9.53},{"b":"7.5","p":"b","t":13.81,"d":8.58},{"b":"7.5","p":"b","t":13.93,"d":7.64},{"b":"7.5","p":"b","t":15.04,"d":7.33},{"b":"7.5","p":"b","t":15.3,"d":5.03},{"b":"7.5","p":"b","t":15.56,"d":4.09},{"b":"7.5","p":"b","t":15.85,"d":4.81},{"b":"7.5","p":"b","t":16.07,"d":7.64},{"b":"7.5","p":"b","t":16.22,"d":5.85},{"b":"7.5","p":"b","t":16.41,"d":4.4},{"b":"7.5","p":"b","t":16.52,"d":3.02},{"b":"7.5","p":"b","t":16.81,"d":0},
{"b":"7.5","p":"c","t":18.81,"d":0},{"b":"7.5","p":"c","t":19,"d":5.75},{"b":"7.5","p":"c","t":19.22,"d":6.13},{"b":"7.5","p":"c","t":19.56,"d":5.85},{"b":"7.5","p":"c","t":19.59,"d":5.44},{"b":"7.5","p":"c","t":19.41,"d":2.7},{"b":"7.5","p":"c","t":19.59,"d":0},
{"b":"7.5","p":"d","t":20.85,"d":0},{"b":"7.5","p":"d","t":21.22,"d":2.92},{"b":"7.5","p":"d","t":21.7,"d":3.65},{"b":"7.5","p":"d","t":21.96,"d":3.14},{"b":"7.5","p":"d","t":22.07,"d":0},
{"b":"7.5","p":"e","t":24.37,"d":0},{"b":"7.5","p":"e","t":24.48,"d":4.81},{"b":"7.5","p":"e","t":24.52,"d":9.12},{"b":"7.5","p":"e","t":24.78,"d":9.94},{"b":"7.5","p":"e","t":25.22,"d":8.9},{"b":"7.5","p":"e","t":25.41,"d":6.7},{"b":"7.5","p":"e","t":26.22,"d":5.66},{"b":"7.5","p":"e","t":26.52,"d":5.53},{"b":"7.5","p":"e","t":28.3,"d":5.82},{"b":"7.5","p":"e","t":28.48,"d":5.53},{"b":"7.5","p":"e","t":28.74,"d":2.7},{"b":"7.5","p":"e","t":28.93,"d":0},
{"b":"7.5","p":"f","t":32.41,"d":0},{"b":"7.5","p":"f","t":32.7,"d":1.13},{"b":"7.5","p":"f","t":32.89,"d":1.42},{"b":"7.5","p":"f","t":33.07,"d":0},
{"b":"7.5","p":"g","t":34.59,"d":0},{"b":"7.5","p":"g","t":34.93,"d":2.3},{"b":"7.5","p":"g","t":35.11,"d":0},
{"b":"8","p":"a","t":2.07,"d":0},{"b":"8","p":"a","t":2.04,"d":2.2},{"b":"8","p":"a","t":2.19,"d":4.59},{"b":"8","p":"a","t":2.44,"d":5.66},{"b":"8","p":"a","t":2.81,"d":5.85},{"b":"8","p":"a","t":3.44,"d":7.11},{"b":"8","p":"a","t":4.04,"d":7.64},{"b":"8","p":"a","t":4.37,"d":7.74},{"b":"8","p":"a","t":4.59,"d":6.76},{"b":"8","p":"a","t":5.78,"d":5.22},{"b":"8","p":"a","t":6.33,"d":4.65},{"b":"8","p":"a","t":6.78,"d":4.59},{"b":"8","p":"a","t":7.52,"d":4.81},{"b":"8","p":"a","t":7.89,"d":4.87},{"b":"8","p":"a","t":8.56,"d":5.35},{"b":"8","p":"a","t":9.04,"d":5.06},{"b":"8","p":"a","t":9.3,"d":3.24},{"b":"8","p":"a","t":9.37,"d":0},
{"b":"8","p":"b","t":12.81,"d":0},{"b":"8","p":"b","t":13,"d":3.77},{"b":"8","p":"b","t":13.19,"d":6.7},{"b":"8","p":"b","t":13.07,"d":10.63},{"b":"8","p":"b","t":13.63,"d":9.21},{"b":"8","p":"b","t":13.74,"d":8.27},{"b":"8","p":"b","t":14,"d":7.42},{"b":"8","p":"b","t":15.04,"d":7.11},{"b":"8","p":"b","t":15.33,"d":4.18},{"b":"8","p":"b","t":15.56,"d":3.87},{"b":"8","p":"b","t":15.89,"d":4.5},{"b":"8","p":"b","t":16.11,"d":6.48},{"b":"8","p":"b","t":16.33,"d":4.4},{"b":"8","p":"b","t":16.59,"d":3.02},{"b":"8","p":"b","t":16.78,"d":0},
{"b":"8","p":"c","t":18.93,"d":0},{"b":"8","p":"c","t":19.11,"d":2.92},{"b":"8","p":"c","t":19.15,"d":5.13},{"b":"8","p":"c","t":19.22,"d":5.13},{"b":"8","p":"c","t":19.26,"d":2.92},{"b":"8","p":"c","t":19.37,"d":0},
{"b":"8","p":"d","t":21.44,"d":0},{"b":"8","p":"d","t":21.63,"d":1.45},{"b":"8","p":"d","t":21.78,"d":0},
{"b":"8","p":"e","t":24.93,"d":0},{"b":"8","p":"e","t":24.85,"d":2.61},{"b":"8","p":"e","t":24.67,"d":3.71},{"b":"8","p":"e","t":24.59,"d":4.81},{"b":"8","p":"e","t":24.78,"d":5.22},{"b":"8","p":"e","t":25.41,"d":4.91},{"b":"8","p":"e","t":26.22,"d":4.47},{"b":"8","p":"e","t":27.15,"d":5.06},{"b":"8","p":"e","t":28.11,"d":5.44},{"b":"8","p":"e","t":28.37,"d":5.13},{"b":"8","p":"e","t":28.63,"d":2.7},{"b":"8","p":"e","t":28.74,"d":0},
{"b":"8.5","p":"a","t":2.33,"d":0},{"b":"8.5","p":"a","t":2.19,"d":2.7},{"b":"8.5","p":"a","t":2.56,"d":4.4},{"b":"8.5","p":"a","t":3.07,"d":5.44},{"b":"8.5","p":"a","t":3.81,"d":7.23},{"b":"8.5","p":"a","t":4.3,"d":7.42},{"b":"8.5","p":"a","t":4.56,"d":7.33},{"b":"8.5","p":"a","t":4.78,"d":5.85},{"b":"8.5","p":"a","t":5.89,"d":4.4},{"b":"8.5","p":"a","t":6.52,"d":3.87},{"b":"8.5","p":"a","t":7.33,"d":3.46},{"b":"8.5","p":"a","t":7.52,"d":2.7},{"b":"8.5","p":"a","t":7.74,"d":0},
{"b":"8.5","p":"b","t":8.3,"d":0},{"b":"8.5","p":"b","t":8.37,"d":3.14},{"b":"8.5","p":"b","t":9,"d":3.55},{"b":"8.5","p":"b","t":9.3,"d":1.67},{"b":"8.5","p":"b","t":9.3,"d":0},
{"b":"8.5","p":"c","t":12.93,"d":0},{"b":"8.5","p":"c","t":13.07,"d":4.81},{"b":"8.5","p":"c","t":13.3,"d":6.79},{"b":"8.5","p":"c","t":13.56,"d":7.39},{"b":"8.5","p":"c","t":13.85,"d":7.11},{"b":"8.5","p":"c","t":15.04,"d":6.32},{"b":"8.5","p":"c","t":15.33,"d":3.65},{"b":"8.5","p":"c","t":15.59,"d":3.4},{"b":"8.5","p":"c","t":15.89,"d":3.77},{"b":"8.5","p":"c","t":16.11,"d":4.28},{"b":"8.5","p":"c","t":16.41,"d":2.7},{"b":"8.5","p":"c","t":16.78,"d":0},
{"b":"8.5","p":"d","t":26.15,"d":0},{"b":"8.5","p":"d","t":26.07,"d":2.52},{"b":"8.5","p":"d","t":26.63,"d":3.55},{"b":"8.5","p":"d","t":27.52,"d":4.4},{"b":"8.5","p":"d","t":28.3,"d":4.81},{"b":"8.5","p":"d","t":28.63,"d":1.67},{"b":"8.5","p":"d","t":28.67,"d":0},
{"b":"9","p":"a","t":2.63,"d":0},{"b":"9","p":"a","t":2.63,"d":3.77},{"b":"9","p":"a","t":3.19,"d":5.35},{"b":"9","p":"a","t":3.81,"d":7.01},{"b":"9","p":"a","t":4.19,"d":7.39},{"b":"9","p":"a","t":4.41,"d":7.23},{"b":"9","p":"a","t":4.67,"d":5.85},{"b":"9","p":"a","t":5.78,"d":4.5},{"b":"9","p":"a","t":6.63,"d":2.61},{"b":"9","p":"a","t":7.15,"d":0},
{"b":"9","p":"b","t":13,"d":0},{"b":"9","p":"b","t":13,"d":2.7},{"b":"9","p":"b","t":13.19,"d":5.85},{"b":"9","p":"b","t":13.56,"d":7.26},{"b":"9","p":"b","t":13.85,"d":7.01},{"b":"9","p":"b","t":14.37,"d":5.85},{"b":"9","p":"b","t":14.78,"d":3.77},{"b":"9","p":"b","t":14.78,"d":0},
{"b":"9","p":"c","t":15.59,"d":0},{"b":"9","p":"c","t":15.59,"d":1.67},{"b":"9","p":"c","t":16.07,"d":4.34},{"b":"9","p":"c","t":16.33,"d":2.2},{"b":"9","p":"c","t":16.41,"d":0},
{"b":"9","p":"d","t":27.19,"d":0},{"b":"9","p":"d","t":27.19,"d":1.13},{"b":"9","p":"d","t":27.52,"d":2.2},{"b":"9","p":"d","t":28.11,"d":2.58},{"b":"9","p":"d","t":28.37,"d":2.3},{"b":"9","p":"d","t":28.44,"d":0},
{"b":"9.5","p":"a","t":2.7,"d":0},{"b":"9.5","p":"a","t":2.81,"d":3.77},{"b":"9.5","p":"a","t":3.81,"d":6.48},{"b":"9.5","p":"a","t":4.19,"d":7.11},{"b":"9.5","p":"a","t":4.56,"d":6.92},{"b":"9.5","p":"a","t":4.67,"d":5.75},{"b":"9.5","p":"a","t":5.67,"d":4.18},{"b":"9.5","p":"a","t":6.41,"d":2.2},{"b":"9.5","p":"a","t":6.52,"d":0},
{"b":"9.5","p":"b","t":13.19,"d":0},{"b":"9.5","p":"b","t":13.26,"d":3.77},{"b":"9.5","p":"b","t":13.56,"d":5.75},{"b":"9.5","p":"b","t":14.04,"d":4.81},{"b":"9.5","p":"b","t":14.37,"d":2.7},{"b":"9.5","p":"b","t":14.48,"d":0},
{"b":"9.5","p":"c","t":15.89,"d":0},{"b":"9.5","p":"c","t":16.04,"d":1.98},{"b":"9.5","p":"c","t":16.22,"d":0},
{"b":"10","p":"a","t":3.19,"d":0},{"b":"10","p":"a","t":3.11,"d":2.7},{"b":"10","p":"a","t":3.85,"d":6.48},{"b":"10","p":"a","t":4.19,"d":6.7},{"b":"10","p":"a","t":4.48,"d":6.67},{"b":"10","p":"a","t":4.67,"d":5.75},{"b":"10","p":"a","t":5.67,"d":3.77},{"b":"10","p":"a","t":6.15,"d":0.63},{"b":"10","p":"a","t":6.26,"d":0},
{"b":"10","p":"b","t":13.56,"d":1.76},{"b":"10","p":"b","t":13.63,"d":1.76},{"b":"10","p":"b","t":13.63,"d":2.77},{"b":"10","p":"b","t":13.56,"d":2.77}
],
"floor":[{"t":0.37,"d":27.5},{"t":1.85,"d":27.5},{"t":3.17,"d":27.45},{"t":5.26,"d":24.5},{"t":8.26,"d":22.8},{"t":14.96,"d":22.8},{"t":17.15,"d":20.16},{"t":18.74,"d":20.22},{"t":20.85,"d":22.7},{"t":22.37,"d":22.7},{"t":28.07,"d":22.64},{"t":29.22,"d":20.88},{"t":30.3,"d":20.88},{"t":32.15,"d":22.48},{"t":33.93,"d":22.5},{"t":35.41,"d":22.54},{"t":35.41,"d":30},{"t":0.37,"d":30},{"t":0.37,"d":27.5}],
"mask":[{"t":0,"t2":0.37,"d":0,"d2":30},{"t":35.41,"t2":36,"d":0,"d2":30},{"t":0,"t2":36,"d":0,"d2":0.31}],
"rules":[{"t":0,"d":0.4,"d2":30},{"t":12,"d":0.4,"d2":22.8},{"t":24,"d":0.4,"d2":22.7},{"t":36,"d":0.4,"d2":30}],
"labels":[{"t":9.78,"d":3.02,"x":"7","a":280},{"t":10.33,"d":4.9,"x":"5","a":270},{"t":6.15,"d":6.54,"x":"5","a":0},{"t":3.44,"d":11.6,"x":"3","a":270},{"t":8.93,"d":10.28,"x":"1","a":285},{"t":9.59,"d":10.72,"x":"3","a":285},{"t":9.96,"d":21.1,"x":"1","a":270},{"t":10.63,"d":21.42,"x":"3","a":270},{"t":11.63,"d":21.23,"x":"5","a":270},{"t":12.63,"d":9.3,"x":"7","a":300},{"t":13.85,"d":12.39,"x":"5","a":270},{"t":14.93,"d":13.08,"x":"1","a":270},{"t":16.19,"d":13.8,"x":"1","a":270},{"t":13.85,"d":14.78,"x":"3","a":270},{"t":15.67,"d":15.34,"x":"3","a":270},{"t":17.26,"d":3.08,"x":"7","a":280},{"t":19.41,"d":3.08,"x":"7","a":280},{"t":22,"d":3.02,"x":"7","a":280},{"t":15.48,"d":4.81,"x":"7","a":300},{"t":16.7,"d":5.53,"x":"5","a":0},{"t":19.41,"d":7.74,"x":"3","a":330},{"t":21,"d":9.84,"x":"1","a":300},{"t":11.52,"d":10.47,"x":"5","a":270},{"t":23.44,"d":13.11,"x":"5","a":270},{"t":22.48,"d":16.86,"x":"3","a":270},{"t":22.3,"d":20.66,"x":"1","a":270},{"t":24.3,"d":3.87,"x":"7","a":300},{"t":25.33,"d":12.39,"x":"7","a":290},{"t":26.26,"d":11.1,"x":"5","a":270},{"t":26.7,"d":13.24,"x":"3","a":270},{"t":28,"d":11.04,"x":"1","a":270},{"t":28.89,"d":2.92,"x":"7","a":285},{"t":31.63,"d":7.7,"x":"5","a":350},{"t":32.15,"d":8.8,"x":"3","a":330},{"t":32.37,"d":13.58,"x":"1","a":280},{"t":25.48,"d":21.86,"x":"5","a":270},{"t":27.07,"d":22.01,"x":"1","a":275}],
"months":[{"t":0.48,"d":-0.35,"x":"E"},{"t":1.59,"d":-0.35,"x":"F"},{"t":2.56,"d":-0.35,"x":"M"},{"t":3.59,"d":-0.35,"x":"A"},{"t":4.63,"d":-0.35,"x":"M"},{"t":5.59,"d":-0.35,"x":"J"},{"t":6.67,"d":-0.35,"x":"J"},{"t":7.48,"d":-0.35,"x":"A"},{"t":8.44,"d":-0.35,"x":"S"},{"t":9.44,"d":-0.35,"x":"O"},{"t":10.48,"d":-0.35,"x":"N"},{"t":11.44,"d":-0.35,"x":"D"},{"t":12.63,"d":-0.35,"x":"E"},{"t":13.48,"d":-0.35,"x":"F"},{"t":14.44,"d":-0.35,"x":"M"},{"t":15.48,"d":-0.35,"x":"A"},{"t":16.52,"d":-0.35,"x":"M"},{"t":17.44,"d":-0.35,"x":"J"},{"t":18.56,"d":-0.35,"x":"J"},{"t":19.63,"d":-0.35,"x":"A"},{"t":20.63,"d":-0.35,"x":"S"},{"t":21.56,"d":-0.35,"x":"O"},{"t":22.56,"d":-0.35,"x":"N"},{"t":23.56,"d":-0.35,"x":"D"},{"t":24.52,"d":-0.35,"x":"E"},{"t":25.37,"d":-0.35,"x":"F"},{"t":26.41,"d":-0.35,"x":"M"},{"t":27.33,"d":-0.35,"x":"A"},{"t":28.41,"d":-0.35,"x":"M"},{"t":29.33,"d":-0.35,"x":"J"},{"t":30.48,"d":-0.35,"x":"J"},{"t":31.63,"d":-0.35,"x":"A"},{"t":32.59,"d":-0.35,"x":"S"},{"t":33.48,"d":-0.35,"x":"O"},{"t":34.48,"d":-0.35,"x":"N"},{"t":35.44,"d":-0.35,"x":"D"}],
"years":[{"t":5.44,"d":31.13,"x":"2005"},{"t":17.19,"d":31.13,"x":"2006"},{"t":28.93,"d":31.13,"x":"2007"}],
"bands":[{"b":"-0.5","l":0,"r":1,"v":-0.5,"v2":0},{"b":"0","l":0,"r":1,"v":0,"v2":0.5},{"b":"0.5","l":0,"r":1,"v":0.5,"v2":1},{"b":"1","l":0,"r":1,"v":1,"v2":1.5},{"b":"1.5","l":0,"r":1,"v":1.5,"v2":2},{"b":"2","l":0,"r":1,"v":2,"v2":2.5},{"b":"2.5","l":0,"r":1,"v":2.5,"v2":3},{"b":"3","l":0,"r":1,"v":3,"v2":3.5},{"b":"3.5","l":0,"r":1,"v":3.5,"v2":4},{"b":"4","l":0,"r":1,"v":4,"v2":4.5},{"b":"4.5","l":0,"r":1,"v":4.5,"v2":5},{"b":"5","l":0,"r":1,"v":5,"v2":5.5},{"b":"5.5","l":0,"r":1,"v":5.5,"v2":6},{"b":"6","l":0,"r":1,"v":6,"v2":6.5},{"b":"6.5","l":0,"r":1,"v":6.5,"v2":7},{"b":"7","l":0,"r":1,"v":7,"v2":7.5},{"b":"7.5","l":0,"r":1,"v":7.5,"v2":8},{"b":"8","l":0,"r":1,"v":8,"v2":8.5},{"b":"8.5","l":0,"r":1,"v":8.5,"v2":9},{"b":"9","l":0,"r":1,"v":9,"v2":9.5},{"b":"9.5","l":0,"r":1,"v":9.5,"v2":10},{"b":"10","l":0,"r":1,"v":10,"v2":10.5}],
"ticks":[{"l":1.08,"v":0,"x":"0"},{"l":1.08,"v":1,"x":"1"},{"l":1.08,"v":2,"x":"2"},{"l":1.08,"v":3,"x":"3"},{"l":1.08,"v":4,"x":"4"},{"l":1.08,"v":5,"x":"5"},{"l":1.08,"v":6,"x":"6"},{"l":1.08,"v":7,"x":"7"},{"l":1.08,"v":8,"x":"8"},{"l":1.08,"v":9,"x":"9"},{"l":1.08,"v":10,"x":"10"}]
},
"hconcat":[
{"width":972,"height":954,
"encoding":{"x":{"field":"t","type":"quantitative","scale":{"domain":[0,36],"nice":false,"zero":false},"axis":null},"y":{"field":"d","type":"quantitative","scale":{"domain":[0,30],"reverse":true,"nice":false,"zero":false},"axis":{"orient":"left","values":[0,5,10,15,20,25,30],"title":"Profundidad (m)","titleFontSize":31,"titleFontWeight":"normal","titleColor":"#b8433a","titlePadding":13,"titleY":481,"labelFontSize":31,"labelColor":"#8b0f0f","labelPadding":4,"tickSize":12,"tickColor":"#000","domain":false,"grid":false,"zindex":1}}},
"layer":[
{"data":{"name":"poly"},"mark":{"type":"line","strokeWidth":0,"interpolate":"catmull-rom","clip":true},
 "encoding":{"order":{"value":null},"detail":{"field":"p"},"fill":{"field":"b","type":"nominal","legend":null,"scale":{"domain":["-0.5","0","0.5","1","1.5","2","2.5","3","3.5","4","4.5","5","5.5","6","6.5","7","7.5","8","8.5","9","9.5","10"],"range":["#ff0000","#ff0000","#ff6600","#00ff00","#08f61a","#12ee2c","#1ae53a","#22dd44","#2dd357","#36c868","#2eb45f","#22a055","#158a49","#107d41","#0a6e3c","#00ffff","#00aaff","#0055ff","#0000ff","#0000cc","#000099","#000066"]}},
 "x":{"field":"t","type":"quantitative","axis":{"orient":"top","values":[0,1,2,3,4,5,6,7,8,9,10,11,12,13,14,15,16,17,18,19,20,21,22,23,24,25,26,27,28,29,30,31,32,33,34,35,36],"labels":false,"title":null,"tickSize":14,"tickColor":"#000","domainColor":"#000","grid":false,"zindex":1}}}},
{"data":{"name":"poly"},"transform":[{"filter":{"field":"b","oneOf":["4","3.5","2.5","1","0.5","6","7","8","9","10"]}}],"mark":{"type":"line","stroke":"#000","strokeWidth":1,"interpolate":"catmull-rom","clip":true},
 "encoding":{"order":{"value":null},"detail":[{"field":"b"},{"field":"p"}],
 "x":{"field":"t","type":"quantitative","axis":{"orient":"bottom","values":[0,12,24,36],"labels":false,"title":null,"tickSize":33,"tickColor":"#000","domainColor":"#000","grid":false,"zindex":1}}}},
{"data":{"name":"mask"},"mark":{"type":"rect","fill":"white"},"encoding":{"x2":{"field":"t2"},"y2":{"field":"d2"}}},
{"data":{"name":"floor"},"mark":{"type":"line","fill":"#ffff99","stroke":"#000","strokeWidth":1},"encoding":{"order":{"value":null}}},
{"data":{"name":"rules"},"mark":{"type":"rule","stroke":"#000","strokeWidth":6,"strokeDash":[22,9]},"encoding":{"y2":{"field":"d2"}}},
{"data":{"name":"labels"},"mark":{"type":"text","fontSize":20,"fontWeight":"bold","fill":"#000","align":"center","baseline":"middle"},"encoding":{"text":{"field":"x"},"angle":{"field":"a","type":"quantitative","scale":null}}},
{"data":{"name":"months"},"mark":{"type":"text","fontSize":24,"fontWeight":"bold","fill":"#8b0f0f","align":"center","baseline":"alphabetic"},"encoding":{"text":{"field":"x"}}},
{"data":{"name":"years"},"mark":{"type":"text","fontSize":36,"fontWeight":"bold","fill":"#8b0f0f","align":"center","baseline":"middle"},"encoding":{"text":{"field":"x"}}}
],
"resolve":{"axis":{"x":"independent"}}},
{"width":160,"height":954,
"layer":[
{"data":{"name":"bands"},"mark":{"type":"rect","stroke":"#000","strokeWidth":1},
 "encoding":{"x":{"field":"l","type":"quantitative","scale":{"domain":[0,4],"nice":false},"axis":null},"x2":{"field":"r"},"y":{"field":"v","type":"quantitative","scale":{"domain":[-3.23,13.25],"nice":false,"zero":false},"axis":null},"y2":{"field":"v2"},
 "fill":{"field":"b","type":"nominal","legend":null,"scale":{"domain":["-0.5","0","0.5","1","1.5","2","2.5","3","3.5","4","4.5","5","5.5","6","6.5","7","7.5","8","8.5","9","9.5","10"],"range":["#ff0000","#ff0000","#ff6600","#00ff00","#08f61a","#12ee2c","#1ae53a","#22dd44","#2dd357","#36c868","#2eb45f","#22a055","#158a49","#107d41","#0a6e3c","#00ffff","#00aaff","#0055ff","#0000ff","#0000cc","#000099","#000066"]}}}},
{"data":{"name":"ticks"},"mark":{"type":"text","fontSize":21,"fill":"#444","align":"left","baseline":"middle"},"encoding":{"x":{"field":"l","type":"quantitative"},"y":{"field":"v","type":"quantitative"},"text":{"field":"x"}}},
{"data":{"values":[{"l":3.03,"v":8.53,"x":"mg/L"}]},"mark":{"type":"text","fontSize":30,"fill":"#800000","align":"center","baseline":"middle"},"encoding":{"x":{"field":"l","type":"quantitative"},"y":{"field":"v","type":"quantitative"},"text":{"field":"x"}}}
]}
]}
